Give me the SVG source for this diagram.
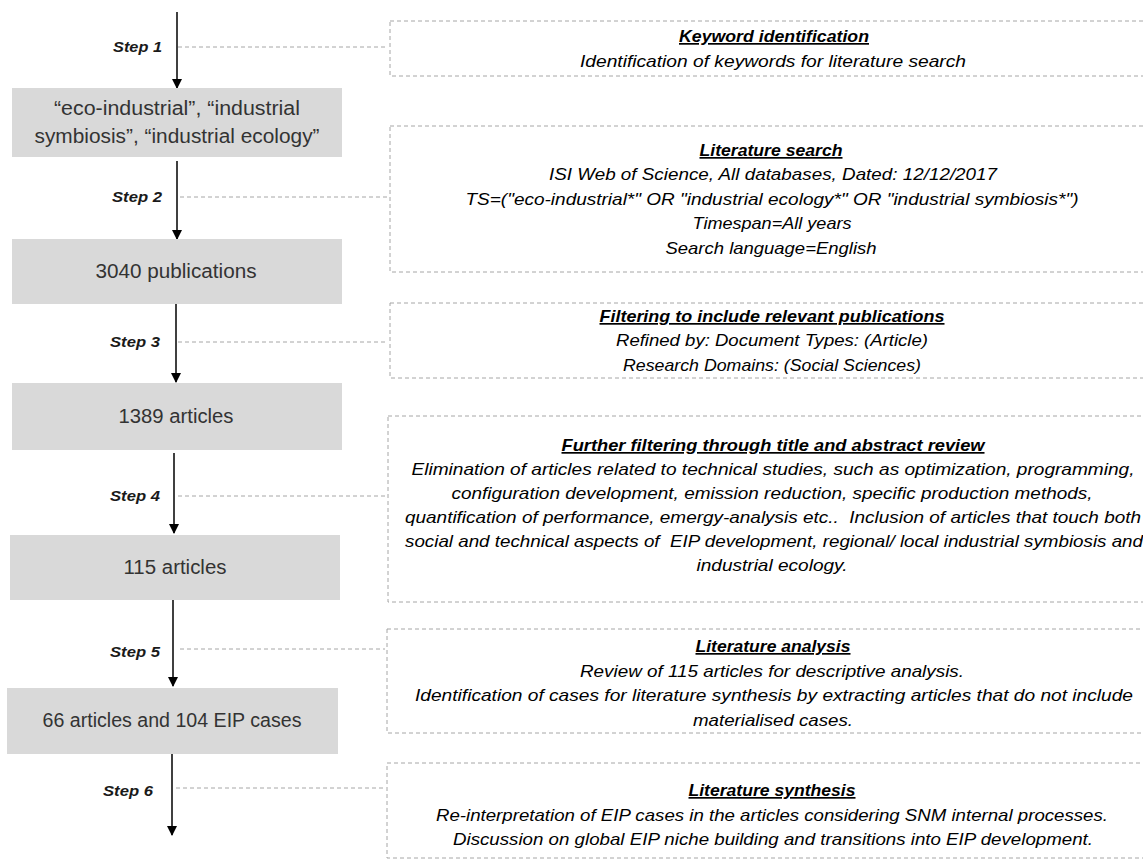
<svg xmlns="http://www.w3.org/2000/svg" width="1143" height="860" viewBox="0 0 1143 860">
<style>
.bg{fill:#ffffff}
.gbox{fill:#d9d9d9;stroke:none}
.gtext{font-family:"Liberation Sans","Open Sans",sans-serif;font-size:20px;fill:#333333;text-anchor:middle}
.dbox{fill:none;stroke:#a6a6a6;stroke-width:1;stroke-dasharray:4 3}
.dline{fill:none;stroke:#a6a6a6;stroke-width:1;stroke-dasharray:4 3}
.arrow{fill:none;stroke:#000;stroke-width:1.5;marker-end:url(#ah)}
.step{font-family:"Liberation Sans",sans-serif;font-size:15px;font-weight:bold;font-style:italic;fill:#1a1a1a;text-anchor:end}
.title{font-family:"Liberation Sans",sans-serif;font-size:17px;font-weight:bold;font-style:italic;text-decoration:underline;fill:#000;text-anchor:middle;white-space:pre}
.body{font-family:"Liberation Sans",sans-serif;font-size:17px;font-style:italic;fill:#000;text-anchor:middle;white-space:pre}
</style>
<defs>
<marker id="ah" markerWidth="10" markerHeight="12" refX="9" refY="5" orient="auto" markerUnits="userSpaceOnUse">
<path d="M0,0 L10,5 L0,10 Z" fill="#000"/>
</marker>
</defs>
<rect class="bg" x="0" y="0" width="1143" height="860"/>

<g id="connectors">
<line class="arrow" x1="177" y1="12" x2="177" y2="88"/>
<line class="arrow" x1="177" y1="161" x2="177" y2="239"/>
<line class="arrow" x1="176" y1="304" x2="176" y2="382"/>
<line class="arrow" x1="174" y1="453" x2="174" y2="533"/>
<line class="arrow" x1="173" y1="600" x2="173" y2="686"/>
<line class="arrow" x1="172" y1="754" x2="172" y2="835"/>
<line class="dline" x1="178" y1="47" x2="388" y2="47"/>
<line class="dline" x1="180" y1="197" x2="388" y2="197"/>
<line class="dline" x1="178" y1="342" x2="388" y2="342"/>
<line class="dline" x1="178" y1="496" x2="386" y2="496"/>
<line class="dline" x1="180" y1="649" x2="385" y2="649"/>
<line class="dline" x1="176" y1="788" x2="385" y2="788"/>
<text class="step" x="162" y="52" textLength="49" lengthAdjust="spacingAndGlyphs">Step 1</text>
<text class="step" x="162" y="202" textLength="50" lengthAdjust="spacingAndGlyphs">Step 2</text>
<text class="step" x="160" y="347" textLength="50" lengthAdjust="spacingAndGlyphs">Step 3</text>
<text class="step" x="160" y="501" textLength="50" lengthAdjust="spacingAndGlyphs">Step 4</text>
<text class="step" x="160" y="657" textLength="50" lengthAdjust="spacingAndGlyphs">Step 5</text>
<text class="step" x="153" y="796" textLength="50" lengthAdjust="spacingAndGlyphs">Step 6</text>
</g>

<g id="n1">
<rect class="gbox" x="12" y="88" width="330" height="69"/>
<text class="gtext" x="177" y="115" textLength="246" lengthAdjust="spacingAndGlyphs">“eco-industrial”, “industrial</text>
<text class="gtext" x="177" y="143" textLength="285" lengthAdjust="spacingAndGlyphs">symbiosis”, “industrial ecology”</text>
</g>
<g id="n2">
<rect class="gbox" x="12" y="239" width="330" height="65"/>
<text class="gtext" x="176" y="278" textLength="161" lengthAdjust="spacingAndGlyphs">3040 publications</text>
</g>
<g id="n3">
<rect class="gbox" x="12" y="383" width="330" height="67"/>
<text class="gtext" x="176" y="423" textLength="115" lengthAdjust="spacingAndGlyphs">1389 articles</text>
</g>
<g id="n4">
<rect class="gbox" x="10" y="535" width="330" height="65"/>
<text class="gtext" x="175" y="574" textLength="103" lengthAdjust="spacingAndGlyphs">115 articles</text>
</g>
<g id="n5">
<rect class="gbox" x="7" y="688" width="331" height="66"/>
<text class="gtext" x="172" y="727" textLength="259" lengthAdjust="spacingAndGlyphs">66 articles and 104 EIP cases</text>
</g>

<g id="d1">
<rect class="dbox" x="390" y="21" width="770" height="55"/>
<text class="title" x="774" y="42" textLength="190" lengthAdjust="spacingAndGlyphs">Keyword identification</text>
<text class="body" x="773" y="67" textLength="386" lengthAdjust="spacingAndGlyphs">Identification of keywords for literature search</text>
</g>
<g id="d2">
<rect class="dbox" x="390" y="126" width="770" height="146"/>
<text class="title" x="771" y="156" textLength="143" lengthAdjust="spacingAndGlyphs">Literature search</text>
<text class="body" x="773" y="180" textLength="448" lengthAdjust="spacingAndGlyphs">ISI Web of Science, All databases, Dated: 12/12/2017</text>
<text class="body" x="772" y="205" textLength="613" lengthAdjust="spacingAndGlyphs">TS=("eco-industrial*" OR "industrial ecology*" OR "industrial symbiosis*")</text>
<text class="body" x="772" y="229" textLength="159" lengthAdjust="spacingAndGlyphs">Timespan=All years</text>
<text class="body" x="771" y="254" textLength="211" lengthAdjust="spacingAndGlyphs">Search language=English</text>
</g>
<g id="d3">
<rect class="dbox" x="390" y="303" width="770" height="75"/>
<text class="title" x="772" y="322" textLength="345" lengthAdjust="spacingAndGlyphs">Filtering to include relevant publications</text>
<text class="body" x="772" y="346" textLength="312" lengthAdjust="spacingAndGlyphs">Refined by: Document Types: (Article)</text>
<text class="body" x="772" y="371" textLength="298" lengthAdjust="spacingAndGlyphs">Research Domains: (Social Sciences)</text>
</g>
<g id="d4">
<rect class="dbox" x="388" y="416" width="772" height="186"/>
<text class="title" x="773" y="451" textLength="423" lengthAdjust="spacingAndGlyphs">Further filtering through title and abstract review</text>
<text class="body" x="773" y="475" textLength="723" lengthAdjust="spacingAndGlyphs">Elimination of articles related to technical studies, such as optimization, programming,</text>
<text class="body" x="772" y="499" textLength="641" lengthAdjust="spacingAndGlyphs">configuration development, emission reduction, specific production methods,</text>
<text class="body" x="773" y="523" textLength="736" lengthAdjust="spacingAndGlyphs">quantification of performance, emergy-analysis etc..  Inclusion of articles that touch both</text>
<text class="body" x="774" y="547" textLength="738" lengthAdjust="spacingAndGlyphs">social and technical aspects of  EIP development, regional/ local industrial symbiosis and</text>
<text class="body" x="772" y="571" textLength="151" lengthAdjust="spacingAndGlyphs">industrial ecology.</text>
</g>
<g id="d5">
<rect class="dbox" x="387" y="629" width="773" height="104"/>
<text class="title" x="773" y="652" textLength="155" lengthAdjust="spacingAndGlyphs">Literature analysis</text>
<text class="body" x="772" y="677" textLength="384" lengthAdjust="spacingAndGlyphs">Review of 115 articles for descriptive analysis.</text>
<text class="body" x="774" y="701" textLength="718" lengthAdjust="spacingAndGlyphs">Identification of cases for literature synthesis by extracting articles that do not include</text>
<text class="body" x="773" y="726" textLength="160" lengthAdjust="spacingAndGlyphs">materialised cases.</text>
</g>
<g id="d6">
<rect class="dbox" x="387" y="763" width="773" height="95"/>
<text class="title" x="772" y="796" textLength="167" lengthAdjust="spacingAndGlyphs">Literature synthesis</text>
<text class="body" x="772" y="821" textLength="672" lengthAdjust="spacingAndGlyphs">Re-interpretation of EIP cases in the articles considering SNM internal processes.</text>
<text class="body" x="773" y="845" textLength="640" lengthAdjust="spacingAndGlyphs">Discussion on global EIP niche building and transitions into EIP development.</text>
</g>
</svg>
